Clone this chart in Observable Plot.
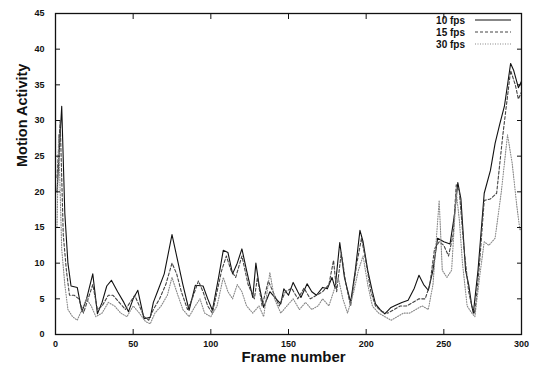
<!DOCTYPE html>
<html>
<head>
<meta charset="utf-8">
<script src="https://cdn.jsdelivr.net/npm/d3@7"></script>
<script src="https://cdn.jsdelivr.net/npm/@observablehq/plot@0.6"></script>
<style>
  html, body { margin: 0; padding: 0; background: #fff; }
  #wrap { position: relative; width: 533px; height: 367px; }
  #legend { position: absolute; left: 400px; top: 14px; font: bold 10px "Liberation Sans", Arial, sans-serif; color: #111; }
  #legend .row { display: flex; align-items: center; height: 12px; justify-content: flex-end; }
  #legend svg { margin-left: 10px; }
</style>
</head>
<body>
<div id="wrap"><div id="legend"></div></div>
<script>
const seriesNames = ["10 fps", "15 fps", "30 fps"];
const xTicks = [0, 50, 100, 150, 200, 250, 300];
const yTicks = [0, 5, 10, 15, 20, 25, 30, 35, 40, 45];

const frames10 = [1,4,6,8,10,14,17,20,24,27,30,33,36,40,44,47,50,53,57,61,63,66,70,75,78,82,86,90,95,98,101,105,108,111,114,117,120,123,127,129,131,134,138,142,145,147,150,153,156,158,162,165,168,172,175,178,180,183,186,190,193,196,198,201,204,206,209,212,216,219,223,227,231,234,237,240,243,246,250,254,257,259,261,264,266,268,269,272,276,280,283,286,289,293,295,298,300];
const motion10 = [20,32,17,10,6.8,6.6,3.2,5,8.5,2.9,4.5,6.8,7.6,6,4.5,3.2,5,6.2,2.2,2.4,4.5,6.2,8.5,14,11,7,3.4,6.9,6.8,5,3.4,8,11.8,11.5,8.5,10,12,9,5.2,10,7,3.8,6,5,4.3,6.4,5.5,7.3,6,5.2,7.1,6,5.5,6.6,6.4,8,6.5,12.9,8,4.5,9,14.6,13,9,6,4.3,3.5,2.9,3.8,4.1,4.5,4.8,6.5,8.3,7,6.2,9,13.5,13,12.7,17,21.3,19,9,7,4,3,9,19.8,23,26.8,29.5,32,38,37,34.6,35.5];

const frames15 = [1,3,5,7,9,12,15,18,21,24,27,30,34,37,41,45,48,51,54,57,60,63,67,71,75,78,81,85,88,92,95,98,101,104,107,110,113,116,120,124,128,130,133,137,140,144,148,152,156,160,164,168,172,176,179,181,184,187,190,194,197,200,203,206,210,214,218,222,226,230,234,238,241,244,247,250,253,256,258,260,263,266,268,270,273,276,280,284,288,293,296,298,300];
const motion15 = [22,30,14,9,5.5,5.5,5,3,5,7,3.5,4,5.5,5.5,4.5,3.5,4.5,5.5,4,2.5,2,3.5,5,7,10,8.5,6,3.5,5,7.5,6,4,3,6,9,11,9,8,11,7,5,8,4,7.5,6,4,6,6.5,5,6.5,5,5.5,6,7,10.4,6,11.5,7,4,10,13.5,10,6,4,3.2,3,3.5,4,4,4.5,5,5,7,12,13,12.5,11,14,21,20,12,6,4,3,10,18.8,19,19.8,28,37,35,33,34];

const frames30 = [1,2,4,6,8,11,14,17,20,23,26,30,34,38,42,46,50,54,58,61,64,68,72,75,78,82,86,90,93,96,100,104,108,111,114,117,120,123,127,131,134,138,141,145,149,153,157,161,165,169,172,176,179,182,185,188,192,195,198,201,204,208,212,216,220,224,228,232,236,240,243,247,249,252,255,258,260,262,265,268,270,273,276,279,283,287,291,294,297,299,300];
const motion30 = [15,28,12,7,3.5,2.5,2,3.5,5,4,2.5,3,4.5,4,3,2.5,4,3,1.8,1.5,3,4,5.5,8,6,3.5,2.5,4,5,3,2.5,4,8,6,5,7,6,4,3,4,2.5,8.7,5,3,4,5,3.5,4.5,3.5,4,5,4,6,8,5,3,6,9,11,7,4,3,2.5,2,2.5,3,3,3.5,4,3.5,7,18.8,9,8,9,20,16,10,4,3,2.5,8,13,12.5,13.5,20,28,24,18,14.6,15];

const styles = [
  {stroke: "#111", strokeWidth: 1.1, strokeDasharray: null},
  {stroke: "#444", strokeWidth: 1.1, strokeDasharray: "3,2"},
  {stroke: "#888", strokeWidth: 1.1, strokeDasharray: "1,1.5"}
];

const toRows = (fr, vals) => fr.map((f, i) => ({f, v: vals[i]}));
const rows = [toRows(frames10, motion10), toRows(frames15, motion15), toRows(frames30, motion30)];

const font = "bold 9px 'Liberation Sans', Arial, sans-serif";
const blank = () => "";

const chart = Plot.plot({
  width: 533,
  height: 367,
  marginLeft: 55,
  marginRight: 12,
  marginTop: 13,
  marginBottom: 33,
  style: {font: font, color: "#111", background: "#fff"},
  x: {domain: [0, 300]},
  y: {domain: [0, 45]},
  marks: [
    ...rows.map((r, i) => Plot.line(r, {x: "f", y: "v", ...styles[i]})),
    Plot.frame({stroke: "#111", strokeWidth: 1.3}),
    Plot.axisX({anchor: "bottom", ticks: xTicks, tickSize: 0, tickPadding: 6, fontWeight: "bold", fontSize: 9, label: null}),
    Plot.axisY({anchor: "left", ticks: yTicks, tickSize: 0, tickPadding: 11, fontWeight: "bold", fontSize: 9, label: null}),
    Plot.axisX({anchor: "bottom", ticks: xTicks, tickSize: -5, tickFormat: blank, label: null}),
    Plot.axisX({anchor: "top", ticks: xTicks, tickSize: -5, tickFormat: blank, label: null}),
    Plot.axisY({anchor: "left", ticks: yTicks, tickSize: -5, tickFormat: blank, label: null}),
    Plot.axisY({anchor: "right", ticks: yTicks, tickSize: -5, tickFormat: blank, label: null}),
    Plot.text(["Frame number"], {frameAnchor: "bottom", dy: 23, dx: 5, fontSize: 15, fontWeight: "bold", lineAnchor: "middle", fill: "#111"}),
    Plot.text(["Motion Activity"], {frameAnchor: "left", rotate: -90, dx: -33, dy: -7, fontSize: 14.5, fontWeight: "bold", lineAnchor: "middle", fill: "#111"})
  ]
});
document.getElementById("wrap").prepend(chart);

const legend = document.getElementById("legend");
seriesNames.forEach((name, i) => {
  const row = document.createElement("div");
  row.className = "row";
  const s = styles[i];
  row.innerHTML = `<span>${name}</span><svg width="36" height="6"><line x1="0" x2="36" y1="3" y2="3" stroke="${s.stroke}" stroke-width="1.2" ${s.strokeDasharray ? `stroke-dasharray="${s.strokeDasharray}"` : ""}/></svg>`;
  legend.appendChild(row);
});
legend.style.width = (511 - 400) + "px";
</script>
</body>
</html>
